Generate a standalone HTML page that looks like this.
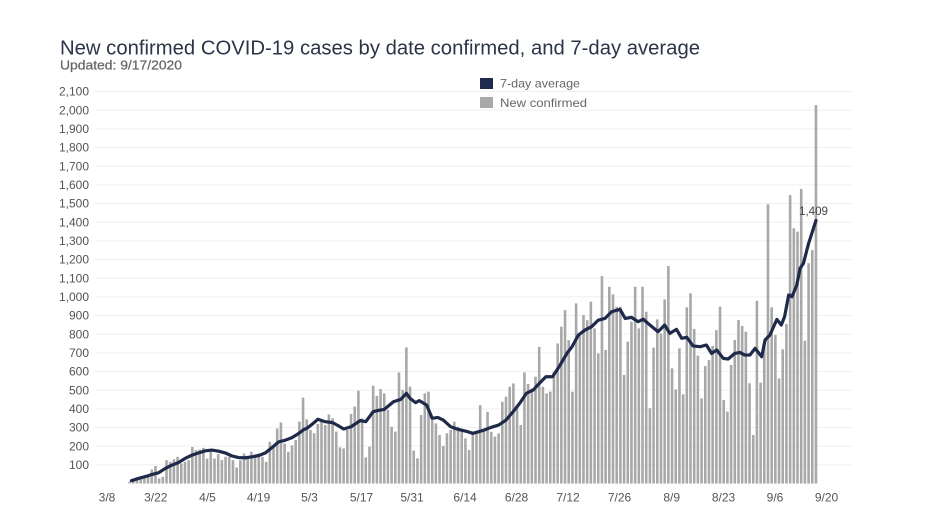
<!DOCTYPE html>
<html><head><meta charset="utf-8"><style>
html,body{margin:0;padding:0;background:#fff;}
svg{display:block;}
text{font-family:"Liberation Sans",sans-serif;}
</style></head><body>
<svg width="932" height="524" viewBox="0 0 932 524" xmlns="http://www.w3.org/2000/svg">
<rect width="932" height="524" fill="#fff"/>
<text x="60" y="54.5" font-size="20" fill="#2b3547" textLength="640" lengthAdjust="spacingAndGlyphs">New confirmed COVID-19 cases by date confirmed, and 7-day average</text>
<text x="60" y="69.5" font-size="13" fill="#666" stroke="#666" stroke-width="0.25" textLength="122" lengthAdjust="spacingAndGlyphs">Updated: 9/17/2020</text>
<g stroke="#efefef" stroke-width="1">
<line x1="95" x2="852" y1="464.83" y2="464.83"/><line x1="95" x2="852" y1="446.17" y2="446.17"/><line x1="95" x2="852" y1="427.5" y2="427.5"/><line x1="95" x2="852" y1="408.83" y2="408.83"/><line x1="95" x2="852" y1="390.17" y2="390.17"/><line x1="95" x2="852" y1="371.5" y2="371.5"/><line x1="95" x2="852" y1="352.83" y2="352.83"/><line x1="95" x2="852" y1="334.17" y2="334.17"/><line x1="95" x2="852" y1="315.5" y2="315.5"/><line x1="95" x2="852" y1="296.83" y2="296.83"/><line x1="95" x2="852" y1="278.17" y2="278.17"/><line x1="95" x2="852" y1="259.5" y2="259.5"/><line x1="95" x2="852" y1="240.83" y2="240.83"/><line x1="95" x2="852" y1="222.17" y2="222.17"/><line x1="95" x2="852" y1="203.5" y2="203.5"/><line x1="95" x2="852" y1="184.83" y2="184.83"/><line x1="95" x2="852" y1="166.17" y2="166.17"/><line x1="95" x2="852" y1="147.5" y2="147.5"/><line x1="95" x2="852" y1="128.83" y2="128.83"/><line x1="95" x2="852" y1="110.17" y2="110.17"/><line x1="95" x2="852" y1="91.5" y2="91.5"/>
</g>
<g font-size="12" fill="#555" text-anchor="end">
<text x="89" y="469">100</text><text x="89" y="450.3">200</text><text x="89" y="431.6">300</text><text x="89" y="413">400</text><text x="89" y="394.3">500</text><text x="89" y="375.6">600</text><text x="89" y="357">700</text><text x="89" y="338.3">800</text><text x="89" y="319.6">900</text><text x="89" y="301">1,000</text><text x="89" y="282.3">1,100</text><text x="89" y="263.6">1,200</text><text x="89" y="245">1,300</text><text x="89" y="226.3">1,400</text><text x="89" y="207.6">1,500</text><text x="89" y="189">1,600</text><text x="89" y="170.3">1,700</text><text x="89" y="151.6">1,800</text><text x="89" y="133">1,900</text><text x="89" y="114.3">2,000</text><text x="89" y="95.6">2,100</text>
</g>
<g font-size="12" fill="#555" text-anchor="middle">
<text x="107" y="501.5">3/8</text><text x="155.8" y="501.5">3/22</text><text x="207.5" y="501.5">4/5</text><text x="258.6" y="501.5">4/19</text><text x="309.5" y="501.5">5/3</text><text x="361.5" y="501.5">5/17</text><text x="412" y="501.5">5/31</text><text x="465" y="501.5">6/14</text><text x="516.5" y="501.5">6/28</text><text x="568" y="501.5">7/12</text><text x="619.5" y="501.5">7/26</text><text x="671.7" y="501.5">8/9</text><text x="723.5" y="501.5">8/23</text><text x="775" y="501.5">9/6</text><text x="826.5" y="501.5">9/20</text>
</g>
<rect x="480" y="78" width="13" height="11" fill="#1f2a4d"/>
<text x="500" y="87.5" font-size="12" fill="#666" textLength="80" lengthAdjust="spacingAndGlyphs">7-day average</text>
<rect x="480" y="97" width="13" height="11" fill="#a9a9a9"/>
<text x="500" y="107" font-size="12" fill="#666" textLength="87" lengthAdjust="spacingAndGlyphs">New confirmed</text>
<g transform="translate(102.5,483.5) scale(3.69,-0.186667)" fill="#a8a8a8">
<rect x="7" width=".7" height="10"/><rect x="8" width=".7" height="15"/><rect x="9" width=".7" height="20"/><rect x="10" width=".7" height="25"/><rect x="11" width=".7" height="30"/><rect x="12" width=".7" height="45"/><rect x="13" width=".7" height="75"/><rect x="14" width=".7" height="93"/><rect x="15" width=".7" height="27"/><rect x="16" width=".7" height="36"/><rect x="17" width=".7" height="125"/><rect x="18" width=".7" height="116"/><rect x="19" width=".7" height="130"/><rect x="20" width=".7" height="143"/><rect x="21" width=".7" height="107"/><rect x="22" width=".7" height="116"/><rect x="23" width=".7" height="125"/><rect x="24" width=".7" height="196"/><rect x="25" width=".7" height="179"/><rect x="26" width=".7" height="182"/><rect x="27" width=".7" height="191"/><rect x="28" width=".7" height="134"/><rect x="29" width=".7" height="175"/><rect x="30" width=".7" height="134"/><rect x="31" width=".7" height="157"/><rect x="32" width=".7" height="125"/><rect x="33" width=".7" height="143"/><rect x="34" width=".7" height="143"/><rect x="35" width=".7" height="125"/><rect x="36" width=".7" height="86"/><rect x="37" width=".7" height="125"/><rect x="38" width=".7" height="160"/><rect x="39" width=".7" height="146"/><rect x="40" width=".7" height="170"/><rect x="41" width=".7" height="143"/><rect x="42" width=".7" height="160"/><rect x="43" width=".7" height="143"/><rect x="44" width=".7" height="116"/><rect x="45" width=".7" height="223"/><rect x="46" width=".7" height="205"/><rect x="47" width=".7" height="295"/><rect x="48" width=".7" height="327"/><rect x="49" width=".7" height="214"/><rect x="50" width=".7" height="170"/><rect x="51" width=".7" height="205"/><rect x="52" width=".7" height="233"/><rect x="53" width=".7" height="331"/><rect x="54" width=".7" height="460"/><rect x="55" width=".7" height="344"/><rect x="56" width=".7" height="287"/><rect x="57" width=".7" height="269"/><rect x="58" width=".7" height="319"/><rect x="59" width=".7" height="337"/><rect x="60" width=".7" height="313"/><rect x="61" width=".7" height="370"/><rect x="62" width=".7" height="349"/><rect x="63" width=".7" height="278"/><rect x="64" width=".7" height="194"/><rect x="65" width=".7" height="188"/><rect x="66" width=".7" height="287"/><rect x="67" width=".7" height="372"/><rect x="68" width=".7" height="412"/><rect x="69" width=".7" height="497"/><rect x="70" width=".7" height="349"/><rect x="71" width=".7" height="140"/><rect x="72" width=".7" height="197"/><rect x="73" width=".7" height="524"/><rect x="74" width=".7" height="469"/><rect x="75" width=".7" height="506"/><rect x="76" width=".7" height="483"/><rect x="77" width=".7" height="394"/><rect x="78" width=".7" height="304"/><rect x="79" width=".7" height="278"/><rect x="80" width=".7" height="595"/><rect x="81" width=".7" height="501"/><rect x="82" width=".7" height="729"/><rect x="83" width=".7" height="519"/><rect x="84" width=".7" height="176"/><rect x="85" width=".7" height="135"/><rect x="86" width=".7" height="367"/><rect x="87" width=".7" height="483"/><rect x="88" width=".7" height="492"/><rect x="89" width=".7" height="340"/><rect x="90" width=".7" height="322"/><rect x="91" width=".7" height="260"/><rect x="92" width=".7" height="201"/><rect x="93" width=".7" height="269"/><rect x="94" width=".7" height="287"/><rect x="95" width=".7" height="331"/><rect x="96" width=".7" height="304"/><rect x="97" width=".7" height="287"/><rect x="98" width=".7" height="242"/><rect x="99" width=".7" height="179"/><rect x="100" width=".7" height="268"/><rect x="101" width=".7" height="268"/><rect x="102" width=".7" height="420"/><rect x="103" width=".7" height="286"/><rect x="104" width=".7" height="384"/><rect x="105" width=".7" height="277"/><rect x="106" width=".7" height="251"/><rect x="107" width=".7" height="268"/><rect x="108" width=".7" height="438"/><rect x="109" width=".7" height="465"/><rect x="110" width=".7" height="518"/><rect x="111" width=".7" height="536"/><rect x="112" width=".7" height="411"/><rect x="113" width=".7" height="313"/><rect x="114" width=".7" height="595"/><rect x="115" width=".7" height="533"/><rect x="116" width=".7" height="509"/><rect x="117" width=".7" height="572"/><rect x="118" width=".7" height="732"/><rect x="119" width=".7" height="518"/><rect x="120" width=".7" height="483"/><rect x="121" width=".7" height="492"/><rect x="122" width=".7" height="599"/><rect x="123" width=".7" height="750"/><rect x="124" width=".7" height="840"/><rect x="125" width=".7" height="929"/><rect x="126" width=".7" height="768"/><rect x="127" width=".7" height="492"/><rect x="128" width=".7" height="965"/><rect x="129" width=".7" height="795"/><rect x="130" width=".7" height="902"/><rect x="131" width=".7" height="875"/><rect x="132" width=".7" height="974"/><rect x="133" width=".7" height="831"/><rect x="134" width=".7" height="697"/><rect x="135" width=".7" height="1111"/><rect x="136" width=".7" height="715"/><rect x="137" width=".7" height="1054"/><rect x="138" width=".7" height="1013"/><rect x="139" width=".7" height="947"/><rect x="140" width=".7" height="947"/><rect x="141" width=".7" height="581"/><rect x="142" width=".7" height="760"/><rect x="143" width=".7" height="867"/><rect x="144" width=".7" height="1054"/><rect x="145" width=".7" height="831"/><rect x="146" width=".7" height="1054"/><rect x="147" width=".7" height="920"/><rect x="148" width=".7" height="403"/><rect x="149" width=".7" height="728"/><rect x="150" width=".7" height="879"/><rect x="151" width=".7" height="804"/><rect x="152" width=".7" height="986"/><rect x="153" width=".7" height="1165"/><rect x="154" width=".7" height="617"/><rect x="155" width=".7" height="504"/><rect x="156" width=".7" height="724"/><rect x="157" width=".7" height="478"/><rect x="158" width=".7" height="944"/><rect x="159" width=".7" height="1019"/><rect x="160" width=".7" height="828"/><rect x="161" width=".7" height="685"/><rect x="162" width=".7" height="456"/><rect x="163" width=".7" height="629"/><rect x="164" width=".7" height="661"/><rect x="165" width=".7" height="737"/><rect x="166" width=".7" height="822"/><rect x="167" width=".7" height="947"/><rect x="168" width=".7" height="447"/><rect x="169" width=".7" height="385"/><rect x="170" width=".7" height="635"/><rect x="171" width=".7" height="769"/><rect x="172" width=".7" height="876"/><rect x="173" width=".7" height="844"/><rect x="174" width=".7" height="813"/><rect x="175" width=".7" height="537"/><rect x="176" width=".7" height="260"/><rect x="177" width=".7" height="979"/><rect x="178" width=".7" height="540"/><rect x="179" width=".7" height="751"/><rect x="180" width=".7" height="1496"/><rect x="181" width=".7" height="944"/><rect x="182" width=".7" height="795"/><rect x="183" width=".7" height="563"/><rect x="184" width=".7" height="719"/><rect x="185" width=".7" height="854"/><rect x="186" width=".7" height="1545"/><rect x="187" width=".7" height="1367"/><rect x="188" width=".7" height="1349"/><rect x="189" width=".7" height="1578"/><rect x="190" width=".7" height="765"/><rect x="191" width=".7" height="1180"/><rect x="192" width=".7" height="1250"/><rect x="193" width=".7" height="2027"/>
</g>
<g transform="translate(103.8,483.5) scale(3.69,-0.186667)">
<polyline fill="none" stroke="#1f2a4b" stroke-width="3.2" vector-effect="non-scaling-stroke" stroke-linejoin="round" stroke-linecap="round" points="7.5,15 9.4,27 11.6,39 13,48 14.8,57 16.6,80 18.4,98 20.2,112 22,134 23.9,152 25.7,164 27.5,175 29.3,179 31.1,173 32.9,164 34.7,148 36.5,139 38.4,138 40.2,143 42,150 43.8,164 45.6,193 47.4,223 49.2,232 51,246 52.8,268 54.2,289 55,295 56.5,318 58,344 60,331 62,326 63.5,310 65,292 67,304 69.5,337 71,331 73,385 74.5,392 76,397 78.5,438 80.5,451 82,483 83,456 84.5,433 85.5,444 87.5,420 89,349 90.5,354 92,340 94,304 96,290 98.5,278 100,269 101.5,277 103,286 105,301 107,313 109,340 110.9,384 112.7,429 114.5,483 116.4,501 118,536 119.8,572 121.6,572 123.4,626 125.5,697 126.9,733 128.6,795 130.4,822 132.2,840 134,875 135.8,884 137.6,920 139.9,933 141.3,884 143,890 144.8,867 146.2,880 148,849 150.2,813 152,849 153.4,804 155.2,826 156.6,778 158,783 159.7,737 161.6,733 163.3,742 164.7,697 166.1,715 167.9,670 169.2,667 171,697 172.4,702 173.7,688 175.1,688 176.5,724 178.3,679 179.2,769 180.5,795 182.4,879 183.6,849 184.5,894 185.6,1010 186.5,1001 187.8,1063 188.7,1153 189.6,1179 191,1286 193,1409"/>
</g>
<text x="799" y="215" font-size="12" fill="#444" textLength="29" lengthAdjust="spacingAndGlyphs">1,409</text>
</svg>
</body></html>
